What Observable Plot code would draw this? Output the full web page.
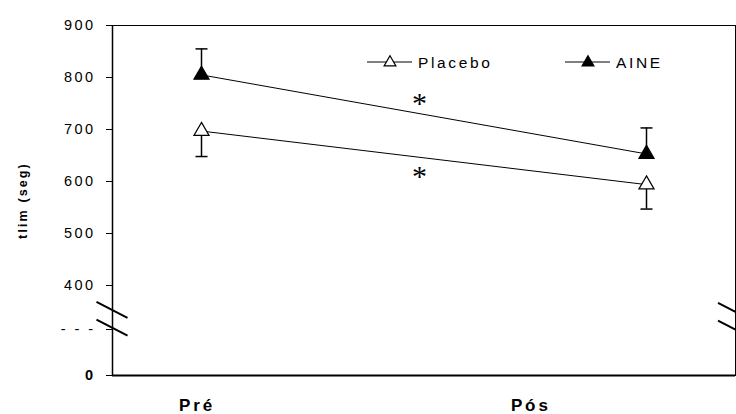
<!DOCTYPE html>
<html><head><meta charset="utf-8">
<script src="https://cdn.jsdelivr.net/npm/d3@7"></script>
<script src="https://cdn.jsdelivr.net/npm/@observablehq/plot@0.6"></script>
<style>
body{margin:0;background:#fff;}
#chart{position:relative;width:736px;height:414px;}
#chart svg text{letter-spacing:0.17em;}
</style></head><body><div id="chart"></div>
<script>
// ---- data ----
const times = ["Pré", "Pós"];
const timeIndex = [0, 1];
const groups = ["Placebo", "AINE"];
const placeboMean = [697, 594];
const placeboErr = [49, 47];     // drawn downward
const aineMean = [805, 653];
const aineErr = [50, 50];        // drawn upward
const yTicks = [0, 100, 400, 500, 600, 700, 800, 900];
const yTickLabels = ["", "- - -", "400", "500", "600", "700", "800", "900"];
const asteriskValues = [750, 610];
const breakValues = [230, 110];

// broken axis: 0–100 and 100–400 are compressed, 400–900 linear
const brk = d3.scaleLinear().domain([0, 100, 400, 900]).range([0, 46, 90, 350]);

const rows = [];
groups.forEach((g, gi) => timeIndex.forEach((t, ti) => {
  const mean = gi ? aineMean[ti] : placeboMean[ti];
  const err = gi ? aineErr[ti] : placeboErr[ti];
  rows.push({group: g, t, mean, end: mean + (gi ? err : -err)});
}));

const capSymbol = {draw(ctx, size) {const r = Math.sqrt(size / Math.PI); ctx.moveTo(-r, 0); ctx.lineTo(r, 0);}};

function breakMarks(index, scales, values, dims) {
  const g = d3.create("svg:g").attr("stroke", "black").attr("stroke-width", 2);
  const xl = scales.x(-0.2), xr = scales.x(1.2);
  for (const v of breakValues) {
    const y = scales.y(brk(v));
    g.append("line").attr("x1", xl - 15.5).attr("y1", y - 8).attr("x2", xl + 15.5).attr("y2", y + 8);
    g.append("line").attr("x1", xr - 17).attr("y1", y - 7).attr("x2", xr + 14).attr("y2", y + 9);
  }
  return g.node();
}

function legendMark(index, scales, values, dims) {
  const g = d3.create("svg:g");
  const y = 62;
  const items = [{name: "Placebo", x0: 367, fill: "white"}, {name: "AINE", x0: 565, fill: "black"}];
  const tri = d3.symbol(d3.symbolTriangle, 60)();
  for (const it of items) {
    g.append("line").attr("x1", it.x0).attr("x2", it.x0 + 45).attr("y1", y).attr("y2", y).attr("stroke", "black").attr("stroke-width", 1);
    g.append("path").attr("d", tri).attr("transform", `translate(${it.x0 + 23},${y + 0.5})`).attr("fill", it.fill).attr("stroke", "black").attr("stroke-width", 1.2);
    g.append("text").attr("x", it.x0 + 51).attr("y", y).attr("dy", "0.36em").attr("text-anchor", "start")
      .attr("font-size", 15.5).attr("fill", "black").text(it.name);
  }
  return g.node();
}

const chart = Plot.plot({
  width: 736, height: 414,
  marginLeft: 112, marginRight: 1, marginTop: 25, marginBottom: 39,
  x: {domain: [-0.2, 1.2], axis: null},
  y: {transform: brk, domain: [0, 350], axis: null},
  style: {fontFamily: "'Liberation Sans', Arial, sans-serif", background: "white", color: "black"},
  marks: [
    Plot.frame({stroke: "black", strokeWidth: 1}),
    Plot.ruleY([0], {stroke: "black", strokeWidth: 2}),
    Plot.ruleX([-0.2], {stroke: "black", strokeWidth: 1.5}),
    Plot.axisY(yTicks, {anchor: "left", tickSize: 6, tickPadding: 11, fontSize: 14.5, stroke: "black", fill: "black",
      tickFormat: d => yTickLabels[yTicks.indexOf(d)]}),
    Plot.text([0], {x: -0.2, y: d => d, text: d => String(d), textAnchor: "end", dx: -17, fontSize: 14.5, fontWeight: "bold", fill: "black"}),
    Plot.text(["tlim (seg)"], {frameAnchor: "left", textAnchor: "middle", dx: -90, rotate: -90, fontSize: 12.5, fontWeight: "bold", fill: "black"}),
    Plot.text(times, {x: [-0.01, 0.74], y: [0, 0], dy: 30, text: d => d, fontSize: 17, fontWeight: "bold", fill: "black"}),
    Plot.line(rows, {x: "t", y: "mean", z: "group", stroke: "black", strokeWidth: 1}),
    Plot.ruleX(rows, {x: "t", y1: "mean", y2: "end", stroke: "black", strokeWidth: 1.5}),
    Plot.dot(rows, {x: "t", y: "end", symbol: capSymbol, r: 6, stroke: "black", strokeWidth: 1.5, fill: "none"}),
    Plot.dot(rows, {x: "t", y: "mean", symbol: "triangle", r: 5.6, stroke: "black", strokeWidth: 1.2,
      fill: d => d.group === "AINE" ? "black" : "white"}),
    Plot.text(asteriskValues, {x: 0.49, y: d => d, text: () => "*", fontSize: 30, fontFamily: "'Liberation Serif', serif", fill: "black"}),
    breakMarks,
    legendMark
  ]
});
d3.select(chart).selectAll("text").filter(function() {return this.textContent === "*";}).style("letter-spacing", "0");
document.getElementById("chart").appendChild(chart);
</script></body></html>
